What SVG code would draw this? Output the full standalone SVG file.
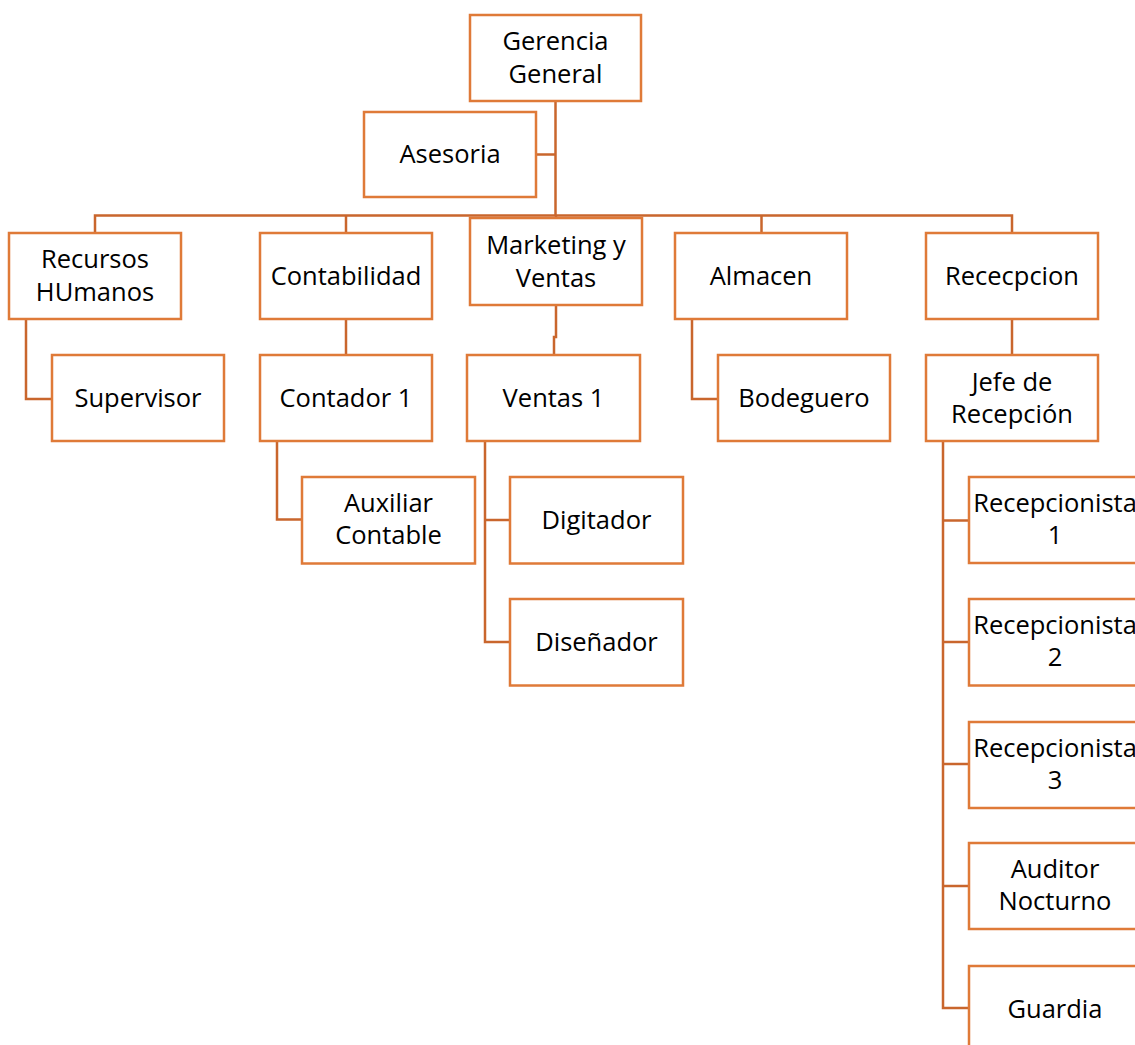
<svg xmlns="http://www.w3.org/2000/svg" width="1135" height="1045" viewBox="0 0 1135 1045">
  <style>
    .box { fill: #ffffff; stroke: #DF7A38; stroke-width: 2.5; }
    .lbl { font-family: "Open Sans", "Liberation Sans", sans-serif; font-size: 25.5px; fill: #000000; text-anchor: middle; }
    .conn { fill: none; stroke: #C9662D; stroke-width: 2.5; }
  </style>
  <rect width="1135" height="1045" fill="#ffffff"/>

  <!-- reporting lines -->
  <g id="connectors" class="conn">
    <path d="M555.5,101 V215.5"/>
    <path d="M536,154.5 H555.5"/>
    <path d="M95,233 V215.5 H1012 V233"/>
    <path d="M346,215.5 V233"/>
    <path d="M556,215.5 V218"/>
    <path d="M761.5,215.5 V233"/>
    <path d="M26,319 V399 H52"/>
    <path d="M346,319 V355"/>
    <path d="M556,305 V337 H554 V355"/>
    <path d="M692,319 V399 H718"/>
    <path d="M1012,319 V355"/>
    <path d="M277,441 V519.5 H302"/>
    <path d="M485,441 V642 H510"/>
    <path d="M485,520 H510"/>
    <path d="M943,441 V1008 H969"/>
    <path d="M943,520.5 H969"/>
    <path d="M943,642 H969"/>
    <path d="M943,764 H969"/>
    <path d="M943,886 H969"/>
  </g>

  <g id="gerencia-general">
    <rect class="box" x="470" y="15" width="171" height="86"/>
    <text class="lbl" x="555.5" y="50">Gerencia</text>
    <text class="lbl" x="555.5" y="83">General</text>
  </g>
  <g id="asesoria">
    <rect class="box" x="364" y="112" width="172" height="85"/>
    <text class="lbl" x="450" y="163">Asesoria</text>
  </g>
  <g id="recursos-humanos">
    <rect class="box" x="9" y="233" width="172" height="86"/>
    <text class="lbl" x="95" y="268">Recursos</text>
    <text class="lbl" x="95" y="301">HUmanos</text>
  </g>
  <g id="contabilidad">
    <rect class="box" x="260" y="233" width="172" height="86"/>
    <text class="lbl" x="346" y="285">Contabilidad</text>
  </g>
  <g id="marketing-ventas">
    <rect class="box" x="470" y="218" width="172" height="87"/>
    <text class="lbl" x="556" y="254">Marketing y</text>
    <text class="lbl" x="556" y="287">Ventas</text>
  </g>
  <g id="almacen">
    <rect class="box" x="675" y="233" width="172" height="86"/>
    <text class="lbl" x="761" y="285">Almacen</text>
  </g>
  <g id="recepcion">
    <rect class="box" x="926" y="233" width="172" height="86"/>
    <text class="lbl" x="1012" y="285">Rececpcion</text>
  </g>
  <g id="supervisor">
    <rect class="box" x="52" y="355" width="172" height="86"/>
    <text class="lbl" x="138" y="407">Supervisor</text>
  </g>
  <g id="contador-1">
    <rect class="box" x="260" y="355" width="172" height="86"/>
    <text class="lbl" x="346" y="407">Contador 1</text>
  </g>
  <g id="ventas-1">
    <rect class="box" x="467" y="355" width="173" height="86"/>
    <text class="lbl" x="553.5" y="407">Ventas 1</text>
  </g>
  <g id="bodeguero">
    <rect class="box" x="718" y="355" width="172" height="86"/>
    <text class="lbl" x="804" y="407">Bodeguero</text>
  </g>
  <g id="jefe-recepcion">
    <rect class="box" x="926" y="355" width="172" height="86"/>
    <text class="lbl" x="1012" y="391">Jefe de</text>
    <text class="lbl" x="1012" y="423">Recepción</text>
  </g>
  <g id="auxiliar-contable">
    <rect class="box" x="302" y="477" width="173" height="86.5"/>
    <text class="lbl" x="388.5" y="512">Auxiliar</text>
    <text class="lbl" x="388.5" y="544">Contable</text>
  </g>
  <g id="digitador">
    <rect class="box" x="510" y="477" width="173" height="86.5"/>
    <text class="lbl" x="596.5" y="529">Digitador</text>
  </g>
  <g id="disenador">
    <rect class="box" x="510" y="599" width="173" height="86.5"/>
    <text class="lbl" x="596.5" y="651">Diseñador</text>
  </g>
  <g id="recepcionista-1">
    <rect class="box" x="969" y="477" width="172" height="86"/>
    <text class="lbl" x="1055" y="512">Recepcionista</text>
    <text class="lbl" x="1055" y="544">1</text>
  </g>
  <g id="recepcionista-2">
    <rect class="box" x="969" y="599" width="172" height="86.5"/>
    <text class="lbl" x="1055" y="634">Recepcionista</text>
    <text class="lbl" x="1055" y="666">2</text>
  </g>
  <g id="recepcionista-3">
    <rect class="box" x="969" y="722" width="172" height="86"/>
    <text class="lbl" x="1055" y="757">Recepcionista</text>
    <text class="lbl" x="1055" y="789">3</text>
  </g>
  <g id="auditor-nocturno">
    <rect class="box" x="969" y="843" width="172" height="86"/>
    <text class="lbl" x="1055" y="878">Auditor</text>
    <text class="lbl" x="1055" y="910">Nocturno</text>
  </g>
  <g id="guardia">
    <rect class="box" x="969" y="966" width="172" height="86"/>
    <text class="lbl" x="1055" y="1018">Guardia</text>
  </g>
</svg>
